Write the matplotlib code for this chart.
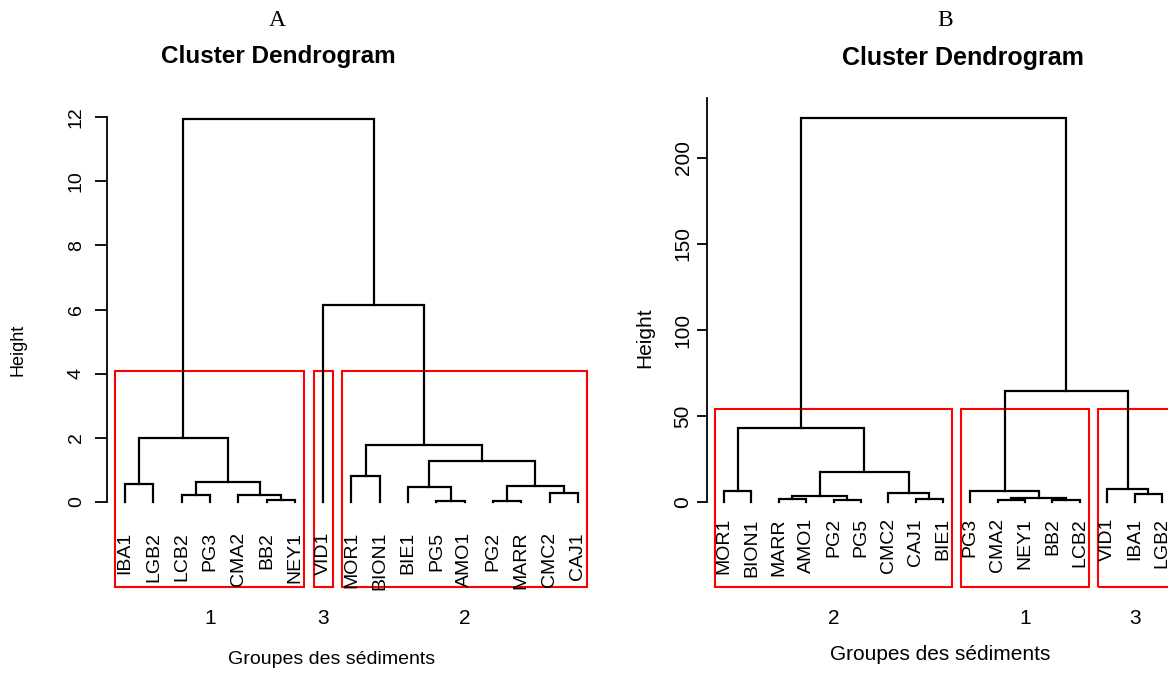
import matplotlib
matplotlib.use('Agg')
import matplotlib.pyplot as plt
import matplotlib.transforms as mtransforms
from matplotlib.patches import Rectangle

plt.rcParams['font.family'] = ['Liberation Sans', 'DejaVu Sans']

W, H = 1168, 675

# ---- panel A (leaves in display order, R-style merge: -i = leaf i, +j = merge row j)
labels_a = ['IBA1', 'LGB2', 'LCB2', 'PG3', 'CMA2', 'BB2', 'NEY1', 'VID1', 'MOR1',
            'BION1', 'BIE1', 'PG5', 'AMO1', 'PG2', 'MARR', 'CMC2', 'CAJ1']
merge_a = [(-6, -7), (-12, -13), (-14, -15), (-3, -4), (-5, 1), (-16, -17),
           (-11, 2), (3, 6), (-1, -2), (4, 5), (-9, -10), (7, 8), (11, 12),
           (9, 10), (-8, 13), (14, 15)]
heights_a = [0.05, 0.03, 0.03, 0.22, 0.22, 0.27, 0.46, 0.51, 0.57, 0.62, 0.81,
             1.29, 1.78, 2.0, 6.14, 11.95]
groups_a = ['1'] * 7 + ['3'] + ['2'] * 9
yticks_a = [0, 2, 4, 6, 8, 10, 12]

# ---- panel B
labels_b = ['MOR1', 'BION1', 'MARR', 'AMO1', 'PG2', 'PG5', 'CMC2', 'CAJ1', 'BIE1',
            'PG3', 'CMA2', 'NEY1', 'BB2', 'LCB2', 'VID1', 'IBA1', 'LGB2']
merge_b = [(-5, -6), (-3, -4), (-8, -9), (-11, -12), (-13, -14), (4, 5), (2, 1),
           (-16, -17), (-7, 3), (-1, -2), (-10, 6), (-15, 8), (7, 9), (10, 13),
           (11, 12), (14, 15)]
heights_b = [1.3, 1.5, 1.5, 1.3, 1.3, 2.6, 3.5, 4.5, 5.0, 6.4, 6.4, 7.4, 17.6,
             43.2, 64.5, 223.0]
groups_b = ['2'] * 9 + ['1'] * 5 + ['3'] * 3
yticks_b = [0, 50, 100, 150, 200]


def draw_tree(ax, merge, heights):
    xs = []
    for (l, r), h in zip(merge, heights):
        pts = []
        for c in (l, r):
            if c < 0:
                pts.append((-c, 0.0))
            else:
                pts.append((xs[c - 1], heights[c - 1]))
        (x1, y1), (x2, y2) = pts
        ax.plot([x1, x1, x2, x2], [y1, h, h, y2], color='black', lw=1.6,
                solid_joinstyle='miter', solid_capstyle='projecting')
        xs.append((x1 + x2) / 2)


def draw_boxes(ax, fig, groups, heights, k=3):
    # rect.hclust style boxes
    runs = []
    for g in groups:
        if runs and runs[-1][0] == g:
            runs[-1][1] += 1
        else:
            runs.append([g, 1])
    top = sum(sorted(heights, reverse=True)[k - 2:k]) / 2
    bottom = ax.get_ylim()[0]
    tr = mtransforms.blended_transform_factory(ax.transData, fig.transFigure)
    start = 0
    for g, n in runs:
        ax.add_patch(Rectangle((start + 0.66, bottom), n - 0.33, top - bottom,
                               fill=False, edgecolor='red', lw=1.5, clip_on=False))
        ax.text(start + (n + 1) / 2, (H - 618) / H, g, transform=tr,
                ha='center', va='center', fontsize=15)
        start += n


def panel(fig, rect, labels, merge, heights, groups, yticks, ylim, spine_top,
          lab_off, ticklen, tickpad, ticksize):
    ax = fig.add_axes(rect)
    ax.set_xlim(0.36, len(labels) + 0.64)
    ax.set_ylim(*ylim)
    draw_tree(ax, merge, heights)
    off = mtransforms.offset_copy(ax.transData, fig=fig, y=-lab_off, units='dots')
    for i, lab in enumerate(labels, start=1):
        ax.text(i, 0, lab, rotation=90, ha='center', va='top', fontsize=14,
                transform=off)
    draw_boxes(ax, fig, groups, heights)
    for s in ['top', 'right', 'bottom']:
        ax.spines[s].set_visible(False)
    ax.spines['left'].set_bounds(0, spine_top)
    ax.spines['left'].set_linewidth(1.3)
    ax.set_xticks([])
    ax.set_yticks(yticks)
    ax.tick_params(axis='y', length=ticklen, width=1.3, pad=tickpad,
                   labelsize=ticksize, labelrotation=90)
    for t in ax.get_yticklabels():
        t.set_va('center')
    return ax


fig = plt.figure(figsize=(W / 100, H / 100), dpi=100)

panel(fig, [107 / W, (H - 587) / H, (596 - 107) / W, (587 - 85) / H],
      labels_a, merge_a, heights_a, groups_a, yticks_a,
      (-2.65, 13.0), 12, 30, 9, 7, 14)
panel(fig, [706.5 / W, (H - 587) / H, 473 / W, (587 - 85) / H],
      labels_b, merge_b, heights_b, groups_b, yticks_b,
      (-49.4, 242.4), 235, 16, 7, 3, 15)

fig.text(277 / W, (H - 20) / H, 'A', family='Liberation Serif', fontsize=17,
         ha='center', va='center')
fig.text(278 / W, (H - 56) / H, 'Cluster Dendrogram', fontweight='bold',
         fontsize=17.5, ha='center', va='center')
fig.text(945 / W, (H - 20) / H, 'B', family='Liberation Serif', fontsize=17,
         ha='center', va='center')
fig.text(963 / W, (H - 58) / H, 'Cluster Dendrogram', fontweight='bold',
         fontsize=18, ha='center', va='center')

fig.text(332 / W, (H - 659) / H, 'Groupes des sédiments', fontsize=14,
         ha='center', va='center')
fig.text(940 / W, (H - 655) / H, 'Groupes des sédiments', fontsize=15,
         ha='center', va='center')
fig.text(18 / W, (H - 350) / H, 'Height', fontsize=13, rotation=90,
         ha='center', va='center')
fig.text(645 / W, (H - 338) / H, 'Height', fontsize=15, rotation=90,
         ha='center', va='center')

fig.savefig('out.png', dpi=100)
